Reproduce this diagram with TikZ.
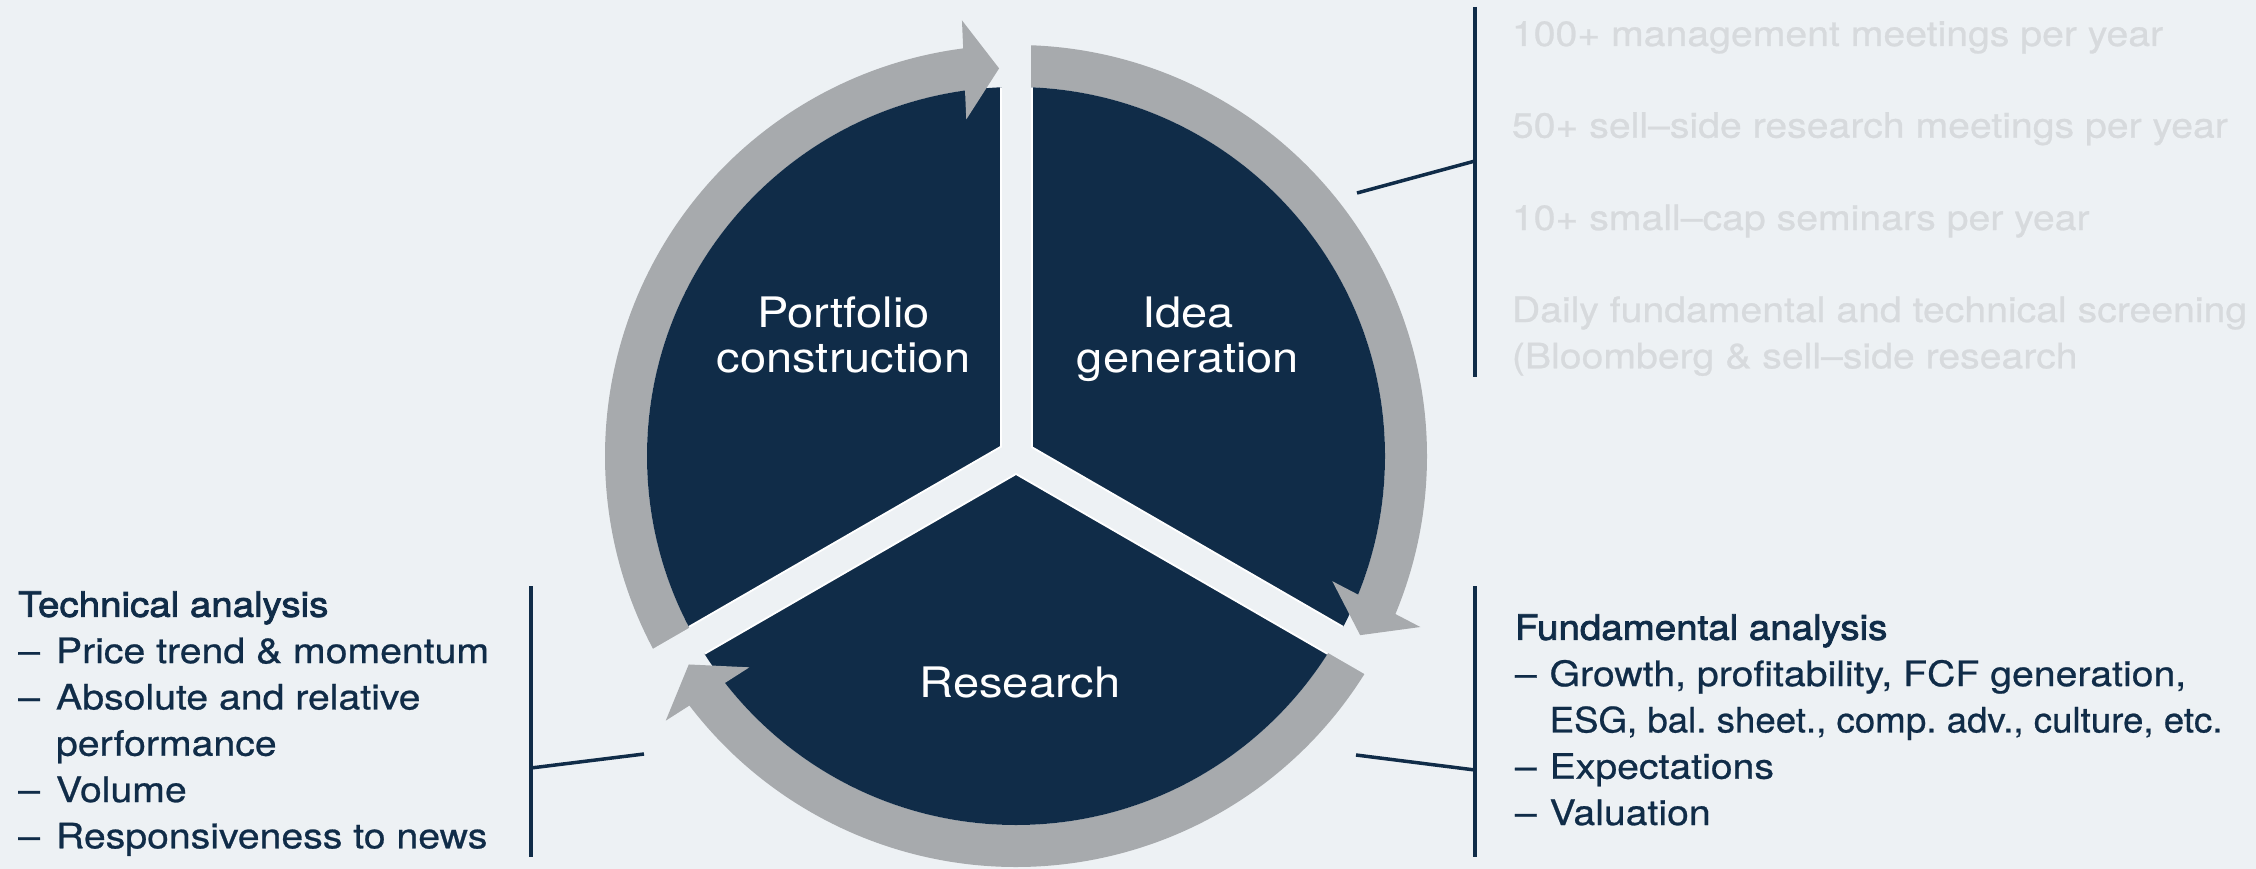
\documentclass[tikz,border=0pt]{standalone}
\usepackage{graphicx}
\usepackage{fontspec}
\setmainfont{TeX Gyre Heros}[FakeStretch=1.12]
\newfontfamily\listfont{TeX Gyre Heros}[Ligatures=TeX,FakeStretch=1.12,FakeBold=0.7]
\newfontfamily\headfont{TeX Gyre Heros}[Ligatures=TeX,FakeStretch=1.1,FakeBold=2.2]
\usetikzlibrary{positioning}
\definecolor{navy}{RGB}{16,44,72}
\definecolor{ringgray}{RGB}{167,170,173}
\definecolor{bgcol}{RGB}{237,241,244}
\definecolor{lighttext}{RGB}{215,218,221}

\begin{document}
\frenchspacing
\begin{tikzpicture}[x=1pt,y=1pt,
  ringpart/.style={fill=ringgray},
  gapbar/.style={draw=bgcol,line width=29pt},
  gapedge/.style={draw=white,line width=33pt},
  wheellabel/.style={font=\fontsize{42}{45}\selectfont,text=white,align=center,inner sep=0pt},
  listtext/.style={font=\listfont\fontsize{35}{46.3}\selectfont,text=navy,align=left,anchor=base west,inner sep=0pt},
  greytext/.style={listtext,text=lighttext},
  bar/.style={draw=navy,line width=3.5pt}]
  \fill[bgcol] (0,0) rectangle (2256,-869);
  \useasboundingbox (0,0) rectangle (2256,-869);

  \begin{scope}[shift={(1016,-456)}]
    \foreach \g in {90,-30,210}
      \fill[ringpart] (\g+121:411) arc[start angle=\g+121, end angle=\g+6, radius=411] -- (\g+6:369) arc[start angle=\g+6, end angle=\g+121, radius=369] -- cycle;
    \fill[navy] (0,0) circle (369);
    \begin{scope}
      \clip (0,0) circle (369);
      \foreach \g in {90,-30,210} \draw[gapedge] (0,0) -- (\g:380);
    \end{scope}
    \foreach \g in {90,-30,210} \draw[gapbar] (0,0) -- (\g:450);
    \foreach \g in {90,-30,210}
      \fill[ringpart, rotate=\g-87.5] (0,388) -- (-35,437.6) -- (-35,338.4) -- cycle;
  \end{scope}

  \node[wheellabel] (portfolio) at (843.5,-335) {Portfolio\\construction};
  \node[wheellabel] (idea) at (1188,-339.5) {Idea\\generation};
  \node[wheellabel, anchor=base] (research) at (1020,-697) {Research};

  \coordinate (idea-top) at (1475,-7);
  \coordinate (idea-bot) at (1475,-377);
  \coordinate (idea-tap) at (1475,-161);
  \coordinate (idea-end) at (1357,-193);
  \draw[bar] (idea-top) -- (idea-bot);
  \draw[bar] (idea-end) -- (idea-tap);

  \coordinate (tech-top) at (531,-586);
  \coordinate (tech-bot) at (531,-857);
  \coordinate (tech-tap) at (531,-768);
  \coordinate (tech-end) at (644,-754);
  \draw[bar] (tech-top) -- (tech-bot);
  \draw[bar] (tech-end) -- (tech-tap);

  \coordinate (fund-top) at (1475,-586);
  \coordinate (fund-bot) at (1475,-857);
  \coordinate (fund-tap) at (1475,-770);
  \coordinate (fund-end) at (1356,-755);
  \draw[bar] (fund-top) -- (fund-bot);
  \draw[bar] (fund-end) -- (fund-tap);

  \node[greytext] (meet) at (1511.7,-46) {100+ management meetings per year};
  \node[greytext] (sell) at (1511.7,-137.7) {50+ sell--side research meetings per year};
  \node[greytext] (seminar) at (1511.7,-230) {10+ small--cap seminars per year};
  \node[greytext] (screen) at (1511.7,-368.3) {Daily fundamental and technical screening\\(Bloomberg \& sell--side research};

  \node[listtext] (tech) at (18,-848.3) {{\headfont Technical analysis}\\
    \makebox[37.8pt][l]{--}Price trend \& momentum\\
    \makebox[37.8pt][l]{--}Absolute and relative\\
    \hspace*{37.8pt}performance\\
    \makebox[37.8pt][l]{--}Volume\\
    \makebox[37.8pt][l]{--}Responsiveness to news};
  \node[listtext] (fund) at (1514.7,-825) {{\headfont Fundamental analysis}\\
    \makebox[34.7pt][l]{--}Growth, profitability, FCF generation,\\
    \hspace*{34.7pt}\scalebox{0.935}[1]{ESG, bal. sheet., comp. adv., culture, etc.}\\
    \makebox[34.7pt][l]{--}Expectations\\
    \makebox[34.7pt][l]{--}Valuation};
\end{tikzpicture}
\end{document}
